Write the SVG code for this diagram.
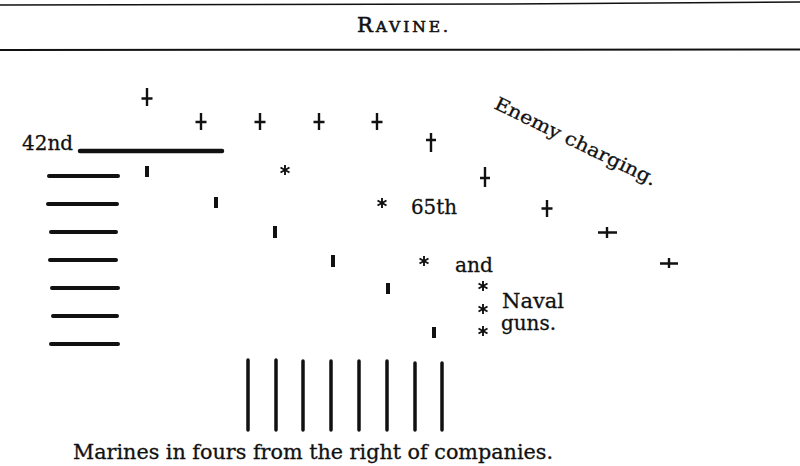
<svg xmlns="http://www.w3.org/2000/svg" width="800" height="466" viewBox="0 0 800 466">
<style>
.t{font-family:"DejaVu Serif","Liberation Serif",serif;fill:#111;stroke:#111;stroke-width:0.3}
.bar{stroke:#111;stroke-width:4;stroke-linecap:round}
.col{stroke:#111;stroke-width:3.5;stroke-linecap:round}
.cr{stroke:#111;stroke-width:2.4;fill:none}
.tk{fill:#111}
</style>
<defs>
<g id="ast" class="cr" style="stroke-width:1.9">
<line x1="0" y1="-5" x2="0" y2="5"/>
<line x1="-4.5" y1="-2.5" x2="4.5" y2="2.5"/>
<line x1="-4.5" y1="2.5" x2="4.5" y2="-2.5"/>
</g>
</defs>
<rect width="800" height="466" fill="#fff"/>
<g id="header">
<path d="M0 5 L500 4 L800 2" stroke="#111" stroke-width="1.6" fill="none"/>
<line x1="0" y1="50" x2="800" y2="49.5" stroke="#111" stroke-width="2"/>
<text class="t" x="357" y="32" textLength="91" lengthAdjust="spacing" style="stroke-width:0.6"><tspan font-size="21">R</tspan><tspan font-size="15.5">AVINE.</tspan></text>
</g>
<g id="enemy">
<g class="cr">
<path d="M147 88 V106 M141.5 98.5 H152.5"/>
<path d="M201 113 V130 M195.5 122 H206.5"/>
<path d="M260 113 V130 M254.5 122 H265.5"/>
<path d="M319 113 V130 M313.5 122 H324.5"/>
<path d="M377 113 V130 M371.5 122 H382.5"/>
<path d="M431 133 V152 M426 140 H436"/>
<path d="M485 167 V187 M480 178 H490"/>
<path d="M547 200 V217 M541.5 208.5 H552.5"/>
<path d="M607 227 V238 M598 232.5 H617"/>
<path d="M669 258 V268 M660 263.5 H678"/>
</g>
<text class="t" font-size="18.5" x="493" y="108" transform="rotate(26 493 108)" textLength="178" lengthAdjust="spacingAndGlyphs">Enemy charging.</text>
</g>
<g id="n42nd">
<text class="t" font-size="20" x="22" y="150" textLength="51" lengthAdjust="spacingAndGlyphs">42nd</text>
<line class="bar" x1="80" y1="151" x2="222" y2="151" style="stroke-width:4.5"/>
</g>
<g id="line-left">
<line class="bar" x1="49" y1="176" x2="118" y2="176"/>
<line class="bar" x1="48" y1="204" x2="117" y2="204"/>
<line class="bar" x1="51" y1="232" x2="116" y2="232"/>
<line class="bar" x1="50" y1="260" x2="116" y2="260"/>
<line class="bar" x1="52" y1="288" x2="118" y2="288"/>
<line class="bar" x1="53" y1="316" x2="117" y2="316"/>
<line class="bar" x1="51" y1="344" x2="118" y2="344"/>
</g>
<g id="ticks">
<rect class="tk" x="145" y="166" width="4" height="11"/>
<rect class="tk" x="214" y="197" width="4" height="11"/>
<rect class="tk" x="273" y="226" width="4" height="12"/>
<rect class="tk" x="331" y="255" width="4" height="12"/>
<rect class="tk" x="386" y="283" width="4" height="11"/>
<rect class="tk" x="432" y="327" width="4" height="11"/>
</g>
<g id="n65th">
<use href="#ast" x="285" y="170"/>
<use href="#ast" x="382" y="203"/>
<use href="#ast" x="424" y="261"/>
<use href="#ast" x="483" y="286"/>
<use href="#ast" x="483" y="309"/>
<use href="#ast" x="483" y="331"/>
<text class="t" font-size="20" x="411" y="214" textLength="46" lengthAdjust="spacingAndGlyphs">65th</text>
<text class="t" font-size="20" x="455" y="272" textLength="38" lengthAdjust="spacingAndGlyphs">and</text>
<text class="t" font-size="20" x="502" y="308" textLength="62" lengthAdjust="spacingAndGlyphs">Naval</text>
<text class="t" font-size="20" x="501" y="330" textLength="55" lengthAdjust="spacingAndGlyphs">guns.</text>
</g>
<g id="marines">
<line class="col" x1="248" y1="360" x2="248" y2="430"/>
<line class="col" x1="276" y1="360" x2="276" y2="430"/>
<line class="col" x1="303" y1="361" x2="303" y2="430"/>
<line class="col" x1="331" y1="361" x2="331" y2="430"/>
<line class="col" x1="359" y1="361" x2="359" y2="430"/>
<line class="col" x1="387" y1="361" x2="387" y2="430"/>
<line class="col" x1="415" y1="363" x2="415" y2="430"/>
<line class="col" x1="442" y1="363" x2="442" y2="430"/>
<text class="t" font-size="19.5" x="73" y="459" textLength="480" lengthAdjust="spacingAndGlyphs">Marines in fours from the right of companies.</text>
</g>
</svg>
